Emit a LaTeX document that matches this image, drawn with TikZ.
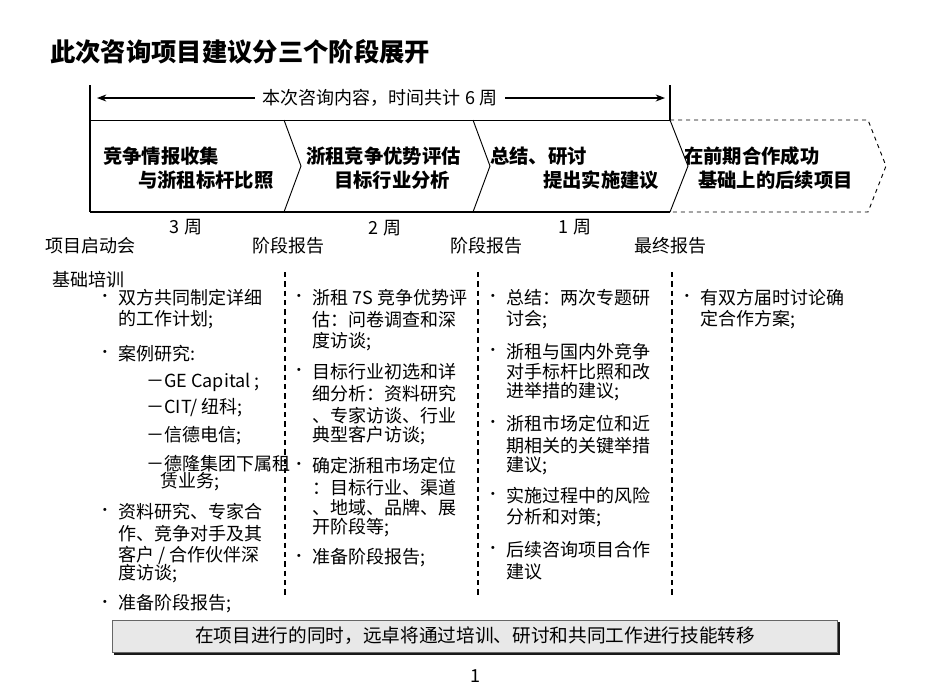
\documentclass[tikz,border=0pt]{standalone}
\usepackage{fontspec}
\setmainfont{Noto Sans CJK SC}
\usetikzlibrary{arrows.meta}
\newcounter{ln}
\newcommand\tl[3]{\stepcounter{ln}\node[txt] (ln\arabic{ln}) at (#1,#2) {#3};}
\newcommand\bl[3]{\stepcounter{ln}\node[txt] (ln\arabic{ln}) at (#1,#2) {#3};\node[bul] (b\arabic{ln}) at (#1-13,#2) {•};}
\begin{document}
\begin{tikzpicture}[x=0.75pt,y=-0.75pt,
  txt/.style={anchor=west,inner sep=0pt,font=\fontsize{13.5}{14}\selectfont},
  bul/.style={inner sep=0pt,font=\fontsize{11}{12}\selectfont},
  hd/.style={anchor=west,inner sep=0pt,font=\fontsize{14.5}{15}\selectfont\bfseries},
  lab/.style={inner sep=0pt,font=\fontsize{13.5}{14}\selectfont},
  dv/.style={dashed,line width=0.9pt,dash pattern=on 4pt off 3pt}]
\useasboundingbox (0,0) rectangle (950,687);
\fill[white] (0,0) rectangle (950,687);
\node[anchor=west,inner sep=0pt,font=\fontsize{19}{20}\selectfont\bfseries] (title) at (50,52) {此次咨询项目建议分三个阶段展开};
% top span
\coordinate (sl) at (90,85); \coordinate (sr) at (670,85);
\draw[line width=0.8pt] (90,85) -- (90,212);
\draw[line width=0.8pt] (670,85) -- (670,120);
\node[lab,fill=white,inner xsep=6pt] (span) at (380,98) {本次咨询内容，时间共计 6 周};
\draw[-{Stealth[length=7pt]},line width=0.8pt] (span.west) -- (97,98);
\draw[-{Stealth[length=7pt]},line width=0.8pt] (span.east) -- (665,98);
% chevrons
\draw[line width=0.7pt] (90,120) -- (670,120);
\draw[line width=1.2pt] (90,212) -- (670,212);
\draw[line width=0.7pt] (284,120) -- (301,166) -- (284,212);
\draw[line width=0.7pt] (473,120) -- (490,166) -- (473,212);
\draw[line width=0.7pt] (670,120) -- (688,166) -- (670,212);
\draw[dashed,line width=0.7pt] (670,120) -- (868,120) -- (886,166) -- (868,212) -- (670,212);
\node[hd] (c1a) at (103,156) {竞争情报收集};
\node[hd] (c1b) at (138,180) {与浙租标杆比照};
\node[hd] (c2a) at (306,156) {浙租竞争优势评估};
\node[hd] (c2b) at (334,180) {目标行业分析};
\node[hd] (c3a) at (490,156) {总结、研讨};
\node[hd] (c3b) at (543,180) {提出实施建议};
\node[hd] (c4a) at (684,156) {在前期合作成功};
\node[hd] (c4b) at (698,180) {基础上的后续项目};
\node[lab] (w1) at (186,227) {3 周};
\node[lab] (w2) at (385,228) {2 周};
\node[lab] (w3) at (575,227) {1 周};
\node[lab] (m1) at (90,246) {项目启动会};
\node[lab] (m2) at (288,246) {阶段报告};
\node[lab] (m3) at (486,246) {阶段报告};
\node[lab] (m4) at (670,246) {最终报告};
% dividers
\draw[dv] (285,272) -- (285,595);
\draw[dv] (478,272) -- (478,595);
\draw[dv] (672,272) -- (672,595);
% column 1
\tl{52}{280}{基础培训}
\bl{118}{298}{双方共同制定详细}
\tl{118}{320}{的工作计划;}
\bl{118}{354}{案例研究:}
\tl{146}{382}{－GE Capital ;}
\tl{146}{408}{－CIT/ 纽科;}
\tl{146}{436}{－信德电信;}
\tl{146}{464}{－德隆集团下属租}
\tl{160}{482}{赁业务;}
\bl{118}{512}{资料研究、专家合}
\tl{118}{534}{作、竞争对手及其}
\tl{118}{555}{客户 / 合作伙伴深}
\tl{118}{574}{度访谈;}
\bl{118}{604}{准备阶段报告;}
% column 2
\bl{312}{298}{浙租 7S 竞争优势评}
\tl{312}{320}{估：问卷调查和深}
\tl{312}{342}{度访谈;}
\bl{312}{372}{目标行业初选和详}
\tl{312}{394}{细分析：资料研究}
\tl{312}{416}{、专家访谈、行业}
\tl{312}{436}{典型客户访谈;}
\bl{312}{466}{确定浙租市场定位}
\tl{312}{488}{：目标行业、渠道}
\tl{312}{508}{、地域、品牌、展}
\tl{312}{528}{开阶段等;}
\bl{312}{558}{准备阶段报告;}
% column 3
\bl{506}{298}{总结：两次专题研}
\tl{506}{320}{讨会;}
\bl{506}{352}{浙租与国内外竞争}
\tl{506}{372}{对手标杆比照和改}
\tl{506}{392}{进举措的建议;}
\bl{506}{424}{浙租市场定位和近}
\tl{506}{446}{期相关的关键举措}
\tl{506}{466}{建议;}
\bl{506}{496}{实施过程中的风险}
\tl{506}{518}{分析和对策;}
\bl{506}{550}{后续咨询项目合作}
\tl{506}{572}{建议}
% column 4
\bl{700}{298}{有双方届时讨论确}
\tl{700}{320}{定合作方案;}
% bottom box
\fill[black!90] (114,622) rectangle (840,655);
\draw[fill=black!9,draw=black!60,line width=0.5pt] (112,620) rectangle (837,652);
\node[lab,font=\fontsize{14}{15}\selectfont] (note) at (475,636) {在项目进行的同时，远卓将通过培训、研讨和共同工作进行技能转移};
\node[lab] (pg) at (475,676) {1};
\end{tikzpicture}
\end{document}
